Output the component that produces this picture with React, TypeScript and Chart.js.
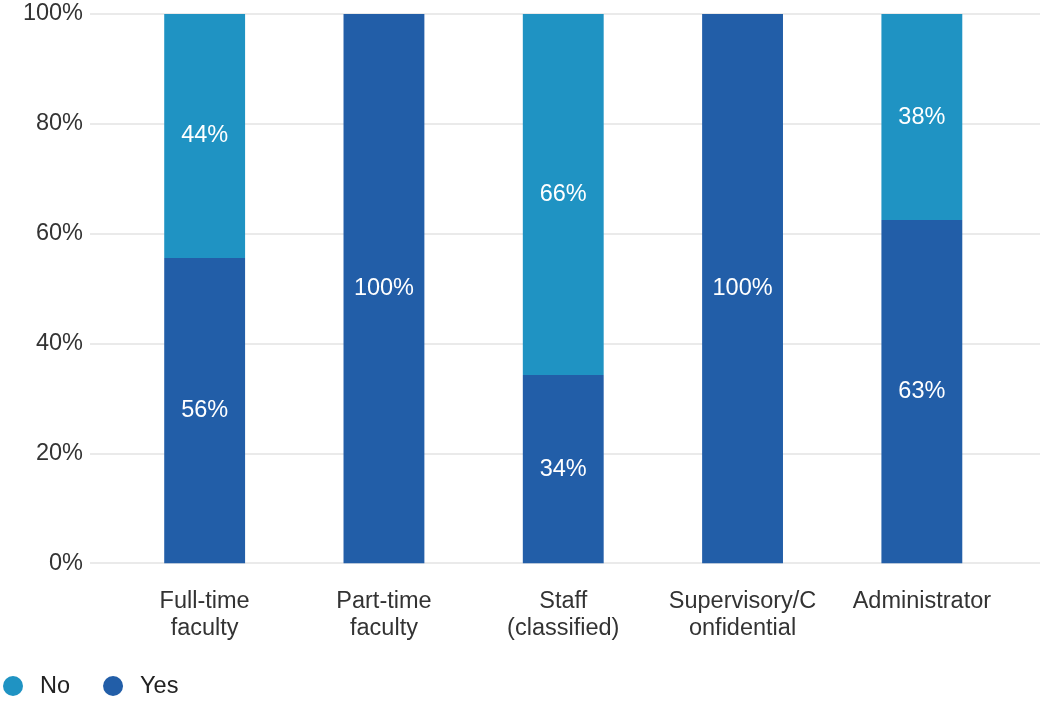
import React, { useEffect, useRef } from "react";
import { Chart, registerables } from "chart.js";

Chart.register(...registerables);

const categories: string[][] = [
  ["Full-time", "faculty"],
  ["Part-time", "faculty"],
  ["Staff", "(classified)"],
  ["Supervisory/C", "onfidential"],
  ["Administrator"],
];
const yesValues = [55.6, 100, 34.3, 100, 62.5];
const noValues = [44.4, 0, 65.7, 0, 37.5];
const yTicks = [0, 20, 40, 60, 80, 100];

const NO_COLOR = "#1f93c3";
const YES_COLOR = "#225ea8";
const FONT = "'Liberation Sans', Arial, sans-serif";
const TEXT = "#333333";
const FS = 23.5;

const gridPlugin = {
  id: "fullGrid",
  beforeDatasetsDraw(chart: any) {
    const { ctx, scales, width } = chart;
    const y = scales.y;
    ctx.save();
    ctx.strokeStyle = "#e3e3e3";
    ctx.lineWidth = 1.5;
    y.ticks.forEach((t: any) => {
      const py = Math.round(y.getPixelForValue(t.value));
      ctx.beginPath();
      ctx.moveTo(90, py);
      ctx.lineTo(width, py);
      ctx.stroke();
    });
    ctx.restore();
  },
};

const labelPlugin = {
  id: "barLabels",
  afterDatasetsDraw(chart: any) {
    const { ctx } = chart;
    ctx.save();
    ctx.fillStyle = "#ffffff";
    ctx.font = `${FS}px ${FONT}`;
    ctx.textAlign = "center";
    ctx.textBaseline = "middle";
    chart.data.datasets.forEach((ds: any, di: number) => {
      const meta = chart.getDatasetMeta(di);
      meta.data.forEach((bar: any, i: number) => {
        const v = ds.data[i];
        if (!v) return;
        const cy = (bar.y + bar.base) / 2;
        ctx.fillText(`${Math.round(v)}%`, bar.x, cy);
      });
    });
    ctx.restore();
  },
};

const legendPlugin = {
  id: "customLegend",
  afterDraw(chart: any) {
    const { ctx } = chart;
    const items = [...chart.data.datasets].reverse();
    ctx.save();
    ctx.font = `${FS}px ${FONT}`;
    ctx.textBaseline = "middle";
    ctx.textAlign = "left";
    let x = 3;
    const cy = 686;
    items.forEach((ds: any) => {
      ctx.fillStyle = ds.backgroundColor;
      ctx.beginPath();
      ctx.arc(x + 10, cy, 10, 0, Math.PI * 2);
      ctx.fill();
      ctx.fillStyle = "#222222";
      ctx.fillText(ds.label, x + 37, cy + 1);
      x = x + 37 + ctx.measureText(ds.label).width + 33;
    });
    ctx.restore();
  },
};

export default function App() {
  const ref = useRef<HTMLCanvasElement | null>(null);
  useEffect(() => {
    if (!ref.current) return;
    const chart = new Chart(ref.current, {
      type: "bar",
      data: {
        labels: categories,
        datasets: [
          { label: "Yes", data: yesValues, backgroundColor: YES_COLOR, borderWidth: 0 },
          { label: "No", data: noValues, backgroundColor: NO_COLOR, borderWidth: 0 },
        ],
      },
      options: {
        animation: false,
        responsive: true,
        maintainAspectRatio: false,
        layout: { padding: { left: 0, right: 28.5, top: 14, bottom: 34.5 } },
        datasets: { bar: { categoryPercentage: 1, barPercentage: 0.451 } },
        plugins: {
          legend: { display: false },
          tooltip: { enabled: false },
        },
        scales: {
          x: {
            stacked: true,
            grid: { display: false, drawTicks: false },
            border: { display: false },
            afterFit: (s: any) => {
              s.paddingLeft = 0;
              s.paddingRight = 0;
            },
            ticks: {
              color: TEXT,
              font: { family: FONT, size: FS, lineHeight: 1.15 },
              padding: 24.5,
              maxRotation: 0,
              autoSkip: false,
            },
          },
          y: {
            stacked: true,
            min: 0,
            max: 100,
            afterBuildTicks: (s: any) => {
              s.ticks = yTicks.map((v) => ({ value: v }));
            },
            afterFit: (s: any) => {
              s.width = 115;
              s.paddingTop = 0;
              s.paddingBottom = 0;
            },
            grid: { display: false, drawTicks: false },
            border: { display: false },
            ticks: {
              color: TEXT,
              font: { family: FONT, size: FS },
              padding: 32,
              callback: (v: any) => `${v}%`,
            },
          },
        },
      },
      plugins: [gridPlugin, labelPlugin, legendPlugin],
    });
    return () => chart.destroy();
  }, []);
  return (
    <div style={{ position: "absolute", left: 0, top: 0, width: 1040, height: 701 }}>
      <canvas ref={ref} />
    </div>
  );
}
